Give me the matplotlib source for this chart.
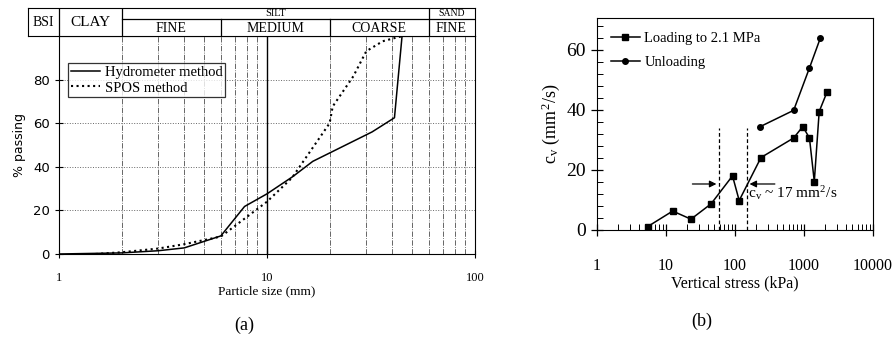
import numpy as np
import matplotlib.pyplot as plt
from matplotlib.ticker import FixedLocator, NullFormatter

plt.rcParams['font.family'] = ['Liberation Serif', 'DejaVu Serif']
plt.rcParams['mathtext.fontset'] = 'stix'

# (a) grading curves
hydro_x = [1, 2, 3, 4, 6, 7.8, 10, 13.3, 16.6, 32, 41, 44.6]
hydro_y = [0, 0.5, 1.5, 2.8, 8.3, 21.8, 27.6, 35.5, 42.5, 56, 62.5, 100]
spos_x = [1.5, 2, 3, 4, 6, 10, 13.2, 20, 20.7, 26, 30, 36, 42, 45]
spos_y = [0, 0.8, 2.5, 4.5, 8, 24, 35, 60, 67.7, 81.5, 93, 97.6, 99.3, 100]

# (b) consolidation coefficient
load_x = [5.4, 12.5, 23, 45, 92, 115, 238, 708, 960, 1200, 1410, 1660, 2150]
load_y = [1.1, 6.3, 3.6, 8.7, 18, 9.8, 24.1, 30.6, 34.4, 30.6, 16.1, 39.4, 45.8]
unload_x = [233, 708, 1200, 1730]
unload_y = [34.4, 39.8, 53.9, 63.9]
band_x = [59, 148]

fig = plt.figure(figsize=(8.96, 3.38), dpi=100)

# ---- left panel ----
ax = fig.add_axes([59 / 896, 84 / 338, 416 / 896, 218 / 338])
ax.set_xscale('log')
ax.set_xlim(1, 100)
ax.set_ylim(0, 100)
for v in [2, 3, 4, 5, 6, 7, 8, 9, 20, 30, 40, 50, 60, 70, 80, 90]:
    ax.axvline(v, color='0.3', lw=0.6, ls='-.', zorder=0)
ax.axvline(10, color='k', lw=1.0, zorder=0)
for v in [20, 40, 60, 80]:
    ax.axhline(v, color='0.4', lw=0.7, ls=':', zorder=0)
ax.plot(hydro_x, hydro_y, color='k', lw=1.1, label='Hydrometer method')
ax.plot(spos_x, spos_y, color='k', lw=1.5, ls=':', label='SPOS method')
ax.set_yticks([0, 20, 40, 60, 80])
ax.set_yticklabels(['0', '20', '40', '60', '80'], family='DejaVu Sans', fontsize=9.5)
ax.xaxis.set_major_locator(FixedLocator([1, 10, 100]))
ax.xaxis.set_minor_locator(FixedLocator([]))
ax.set_xticklabels(['1', '10', '100'], fontsize=9)
ax.tick_params(axis='both', direction='inout', length=6, width=0.8)
ax.tick_params(axis='x', pad=10)
ax.set_xlabel('Particle size (mm)', fontsize=9.5, labelpad=1)
ax.set_ylabel('% passing', family='DejaVu Sans', fontsize=9, labelpad=5)
leg = ax.legend(loc='upper left', bbox_to_anchor=(0.022, 0.876), fontsize=10.5,
                frameon=True, fancybox=False, edgecolor='k', handlelength=2,
                borderpad=0.2, labelspacing=0.15, handletextpad=0.3, borderaxespad=0)
leg.get_frame().set_linewidth(0.9)
ax.text(0.445, -0.327, '(a)', transform=ax.transAxes, ha='center', va='center', fontsize=13)

# header table
hx = fig.add_axes([28 / 896, 302 / 338, 447 / 896, 28 / 338])
hx.set_xscale('log')
hx.set_xlim(0.71, 100)
hx.set_ylim(0, 1)
hx.set_xticks([])
hx.set_yticks([])
hx.minorticks_off()
mid = 0.59
for v in [1, 2, 60]:
    hx.plot([v, v], [0, 1], color='k', lw=0.9)
for v in [6, 20]:
    hx.plot([v, v], [0, mid], color='k', lw=0.9)
hx.plot([2, 100], [mid, mid], color='k', lw=0.9)
hx.text(0.845, 0.5, 'BSI', ha='center', va='center', fontsize=10)
hx.text(1.42, 0.5, 'CLAY', ha='center', va='center', fontsize=11)
hx.text(11, 0.8, 'SILT', ha='center', va='center', fontsize=7.5)
hx.text(77, 0.8, 'SAND', ha='center', va='center', fontsize=7)
for lab, c in [('FINE', 3.46), ('MEDIUM', 10.95), ('COARSE', 34.6), ('FINE', 77)]:
    hx.text(c, 0.27, lab, ha='center', va='center', fontsize=10)

# ---- right panel ----
bx = fig.add_axes([597 / 896, 108 / 338, 276 / 896, 212 / 338])
bx.set_xscale('log')
bx.set_xlim(1, 10000)
bx.set_ylim(0, 70.5)
bx.plot(load_x, load_y, color='k', lw=1.1, marker='s', ms=5, label='Loading to 2.1 MPa')
bx.plot(unload_x, unload_y, color='k', lw=1.1, marker='o', ms=4, label='Unloading')
for v in band_x:
    bx.plot([v, v], [0, 34], color='k', lw=0.9, ls=(0, (3, 2)))
bx.annotate('', xy=(band_x[0], 15.3), xytext=(22, 15.3),
            arrowprops=dict(arrowstyle='-|>', color='k', lw=0.9))
bx.annotate('', xy=(band_x[1], 15.3), xytext=(415, 15.3),
            arrowprops=dict(arrowstyle='-|>', color='k', lw=0.9))
bx.text(152, 12.3, r'c$_\mathregular{v}$ ~ 17 mm$^\mathregular{2}$/s', fontsize=11,
        ha='left', va='center')
bx.set_yticks([0, 20, 40, 60])
bx.yaxis.set_minor_locator(FixedLocator(np.arange(4, 70, 4)))
bx.xaxis.set_major_locator(FixedLocator([1, 10, 100, 1000, 10000]))
minors = [m * 10 ** d for d in range(4) for m in range(2, 10)]
bx.xaxis.set_minor_locator(FixedLocator(minors))
bx.xaxis.set_minor_formatter(NullFormatter())
bx.set_xticklabels(['1', '10', '100', '1000', '10000'])
bx.tick_params(axis='both', which='major', direction='inout', length=8, width=0.9)
bx.tick_params(axis='both', which='minor', direction='in', length=4, width=0.7)
bx.tick_params(axis='x', which='major', pad=16, labelsize=11.5)
bx.tick_params(axis='y', which='major', pad=4, labelsize=14)
bx.set_xlabel('Vertical stress (kPa)', fontsize=11.5, labelpad=1)
bx.set_ylabel(r'c$_\mathregular{v}$ (mm$^\mathregular{2}$/s)', fontsize=13, labelpad=3)
bx.legend(loc='upper left', frameon=False, fontsize=10.5, handlelength=2,
          borderaxespad=0.55, labelspacing=0.75, handletextpad=0.3)
bx.text(0.38, -0.43, '(b)', transform=bx.transAxes, ha='center', va='center', fontsize=13)

fig.savefig('out.png', dpi=100)
